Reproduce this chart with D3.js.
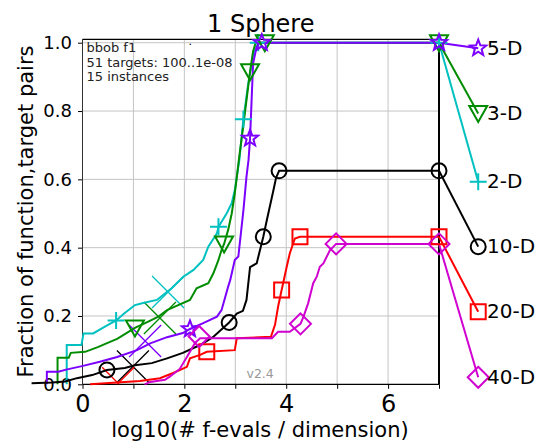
<!DOCTYPE html>
<html>
<head>
<meta charset="utf-8">
<script src="https://cdn.jsdelivr.net/npm/d3@7"></script>
<style>
  html, body { margin: 0; padding: 0; background: #fff; }
  svg { display: block; font-family: "DejaVu Sans", sans-serif; }
</style>
</head>
<body>
<svg id="chart" width="537" height="444"></svg>
<script>
// ---------------- DATA ----------------
const dimLabels = ["2-D", "3-D", "5-D", "10-D", "20-D", "40-D"];

// ECDF curves: [log10(#f-evals/dim), fraction]
const curve2D = [[-0.31,0],[-0.31,0.115],[-0.02,0.115],[0.02,0.149],[0.21,0.149],[0.44,0.169],[0.66,0.187],[0.83,0.209],[1.03,0.232],[1.19,0.238],[1.46,0.247],[1.75,0.281],[1.98,0.315],[2.18,0.335],[2.37,0.364],[2.47,0.403],[2.64,0.442],[2.67,0.461],[2.83,0.50],[2.93,0.53],[2.99,0.568],[3.04,0.618],[3.08,0.657],[3.16,0.776],[3.25,0.876],[3.35,0.964],[3.45,1.0],[7,1.0]];
const curve3D = [[-0.49,0],[-0.49,0.078],[-0.27,0.078],[-0.23,0.092],[0.05,0.095],[0.30,0.109],[0.54,0.124],[0.68,0.133],[1.03,0.165],[1.27,0.182],[1.48,0.197],[1.66,0.217],[1.88,0.232],[2.11,0.247],[2.24,0.281],[2.47,0.296],[2.57,0.325],[2.67,0.364],[2.73,0.393],[2.78,0.411],[2.86,0.452],[2.93,0.50],[2.99,0.559],[3.04,0.618],[3.07,0.657],[3.16,0.760],[3.29,0.915],[3.35,0.975],[3.40,1.0],[7,1.0]];
const curve5D = [[-0.70,0],[-0.70,0.037],[-0.475,0.037],[-0.32,0.043],[0.01,0.054],[0.34,0.066],[0.68,0.080],[1.07,0.100],[1.33,0.120],[1.66,0.138],[1.97,0.150],[2.11,0.162],[2.37,0.179],[2.64,0.198],[2.73,0.217],[2.86,0.286],[2.90,0.305],[2.99,0.364],[3.06,0.374],[3.16,0.51],[3.22,0.608],[3.26,0.657],[3.29,0.72],[3.35,0.94],[3.42,0.988],[3.48,1.0],[7,1.0]];
const curve10D = [[-1.00,0.003],[-0.60,0.005],[-0.34,0.008],[-0.11,0.018],[0.19,0.027],[0.48,0.042],[0.83,0.048],[1.03,0.056],[1.36,0.062],[1.66,0.076],[1.97,0.092],[2.31,0.115],[2.56,0.138],[2.88,0.181],[3.03,0.207],[3.15,0.215],[3.22,0.247],[3.29,0.343],[3.42,0.354],[3.55,0.432],[3.62,0.481],[3.75,0.569],[3.80,0.604],[3.86,0.625],[7,0.625]];
const curve20D = [[0.15,0],[1.13,0.010],[1.52,0.018],[1.78,0.033],[2.05,0.051],[2.11,0.076],[2.31,0.086],[2.44,0.095],[2.99,0.100],[3.03,0.135],[3.70,0.139],[3.78,0.174],[3.84,0.227],[3.91,0.276],[4.01,0.344],[4.07,0.383],[4.17,0.427],[4.27,0.432],[7,0.432]];
const curve40D = [[1.22,0],[1.33,0.007],[1.62,0.013],[1.72,0.023],[1.91,0.045],[2.05,0.080],[2.11,0.095],[2.21,0.121],[2.31,0.135],[3.72,0.135],[3.84,0.154],[4.07,0.154],[4.28,0.177],[4.34,0.198],[4.43,0.237],[4.53,0.296],[4.60,0.315],[4.66,0.344],[4.73,0.354],[4.86,0.393],[4.98,0.411],[7,0.411]];

// marker positions along the curves
const marks2D = [[0.66,0.187],[2.67,0.461],[3.16,0.776],[3.45,1.0],[7,1.0]];
const marks3D = [[1.03,0.165],[2.78,0.411],[3.29,0.915],[3.58,1.0],[7,1.0]];
const marks5D = [[2.11,0.162],[3.29,0.72],[3.52,1.0],[7,1.0]];
const marks10D = [[0.48,0.042],[2.88,0.181],[3.55,0.432],[3.86,0.625],[7,0.625]];
const marks20D = [[2.44,0.095],[3.91,0.276],[4.27,0.432],[7,0.432]];
const marks40D = [[2.29,0.140],[4.28,0.177],[4.98,0.411],[7,0.411]];

// right-hand label positions (y) and x of label markers
const labelX = 7.77;
const labelY = [0.593, 0.793, 0.984, 0.403, 0.2125, 0.0205];

// big crosses (median of unsuccessful evals)
const crossX = [1.68, 1.52, 1.23, 0.99, 0.70];
const crossY = [0.270, 0.194, 0.127, 0.052, 0.003];

const xTicks = [0,1,2,3,4,5,6,7];
const xTickLabels = ["0","","2","","4","","6",""];
const yTicks = [0, 0.2, 0.4, 0.6, 0.8, 1.0];
const infoLines = ["bbob f1", "51 targets: 100..1e-08", "15 instances"];

// ---------------- STYLE ----------------
const colors = ["#00c0c0", "#008c00", "#7b00ff", "#000000", "#ff0000", "#d000d0"];
const markerTypes = ["plus", "tri", "star", "circle", "square", "diamond"];

const curves = [curve2D, curve3D, curve5D, curve10D, curve20D, curve40D];
const marks = [marks2D, marks3D, marks5D, marks10D, marks20D, marks40D];

const svg = d3.select("#chart");
const x = d3.scaleLinear().domain([0, 7]).range([82.5, 439]);
const y = d3.scaleLinear().domain([0, 1.01]).range([384.3, 39.3]);
const [x0, x1] = x.range();
const [yb, yt] = y.range();

svg.append("rect").attr("width", 537).attr("height", 444).attr("fill", "#fff");

svg.append("defs").append("clipPath").attr("id", "axclip")
  .append("rect").attr("x", x0).attr("y", yt).attr("width", x1 - x0).attr("height", yb - yt);

// grid
const grid = svg.append("g").attr("stroke", "#c4c4c4").attr("stroke-width", 1);
xTicks.filter(d => d > 0 && d < 7).forEach(d => {
  grid.append("line").attr("x1", x(d)).attr("x2", x(d)).attr("y1", yt).attr("y2", yb);
});
yTicks.filter(d => d > 0).forEach(d => {
  grid.append("line").attr("x1", x0).attr("x2", x1).attr("y1", y(d)).attr("y2", y(d));
});

// axes
const yAxis = svg.append("g").attr("transform", `translate(${x0},0)`)
  .call(d3.axisLeft(y).tickValues(yTicks).tickFormat(d3.format(".1f")).tickSize(4.5).tickPadding(6));
yAxis.select(".domain").remove();
yAxis.selectAll("text").attr("font-size", 18).attr("font-family", "DejaVu Sans").attr("fill", "#000");
yAxis.selectAll("line").attr("stroke", "#000");

const xAxis = svg.append("g").attr("transform", `translate(0,${yb})`)
  .call(d3.axisBottom(x).tickValues(xTicks).tickFormat((d, i) => xTickLabels[i]).tickSize(4.5).tickPadding(6));
xAxis.select(".domain").remove();
xAxis.selectAll("text").attr("font-size", 24).attr("font-family", "DejaVu Sans").attr("fill", "#000");
xAxis.selectAll("line").attr("stroke", "#000");

// info text
infoLines.forEach((t, i) => {
  svg.append("text").attr("x", 86.5).attr("y", 52.3 + i * 14.3)
    .attr("font-size", 13).attr("fill", "#222").text(t);
});
svg.append("text").attr("x", x(2.08)).attr("y", y(1.0) + 2).attr("font-size", 11).attr("fill", "#000").text(".");

// version
svg.append("text").attr("x", 246.5).attr("y", 377.5).attr("font-size", 12.5).attr("fill", "#999").text("v2.4");

// spines
const sp = svg.append("g").attr("stroke", "#000").attr("fill", "none");
sp.append("line").attr("x1", x0).attr("x2", x0).attr("y1", yt).attr("y2", yb).attr("stroke-width", 1).attr("stroke", "#333");
sp.append("line").attr("x1", x0).attr("x2", x1).attr("y1", yt).attr("y2", yt).attr("stroke-width", 1.2);
sp.append("line").attr("x1", x0).attr("x2", x1).attr("y1", yb).attr("y2", yb).attr("stroke-width", 1.2);
sp.append("line").attr("x1", x1).attr("x2", x1).attr("y1", yt).attr("y2", yb).attr("stroke-width", 2);

// big crosses (clipped to axes)
const cg = svg.append("g").attr("clip-path", "url(#axclip)");
crossX.forEach((cx, i) => {
  const px = x(cx), py = y(crossY[i]), h = 16;
  cg.append("path")
    .attr("d", `M${px - h},${py - h}L${px + h},${py + h}M${px - h},${py + h}L${px + h},${py - h}`)
    .attr("stroke", colors[i]).attr("stroke-width", 1.3).attr("fill", "none");
});

function markerPath(type) {
  switch (type) {
    case "plus": { const s = 8.5; return `M${-s},0H${s}M0,${-s}V${s}`; }
    case "tri": { const r = 9; return `M${-r},${-7.5}L${r},${-7.5}L0,${8.5}Z`; }
    case "star": {
      const R = 8.5, r = 3.6; let p = "";
      for (let k = 0; k < 10; k++) {
        const a = -Math.PI / 2 + k * Math.PI / 5;
        const rr = k % 2 === 0 ? R : r;
        p += (k === 0 ? "M" : "L") + (rr * Math.cos(a)).toFixed(2) + "," + (rr * Math.sin(a)).toFixed(2);
      }
      return p + "Z";
    }
    case "circle": { const r = 7.5; return `M${r},0A${r},${r},0,1,1,${-r},0A${r},${r},0,1,1,${r},0Z`; }
    case "square": { const h = 7.5; return `M${-h},${-h}H${h}V${h}H${-h}Z`; }
    case "diamond": { const h = 10.5; return `M0,${-h}L${h},0L0,${h}L${-h},0Z`; }
  }
}

const line = d3.line().x(d => x(d[0])).y(d => y(d[1]));

// curves
curves.forEach((c, i) => {
  const g = svg.append("g");
  const last = c[c.length - 1];
  // connector to right label marker
  g.append("path")
    .attr("d", line([last, [labelX, labelY[i]]]))
    .attr("stroke", colors[i]).attr("stroke-width", 2).attr("fill", "none");
  g.append("path")
    .attr("d", line(c))
    .attr("stroke", colors[i]).attr("stroke-width", 2).attr("fill", "none")
    .attr("stroke-linejoin", "miter");
});

// markers
marks.forEach((m, i) => {
  const all = m.concat([[labelX, labelY[i]]]);
  svg.append("g").selectAll("path").data(all).join("path")
    .attr("transform", d => `translate(${x(d[0])},${y(d[1])})`)
    .attr("d", markerPath(markerTypes[i]))
    .attr("fill", "none").attr("stroke", colors[i]).attr("stroke-width", 2);
});

// dimension labels
dimLabels.forEach((t, i) => {
  svg.append("text").attr("x", 487).attr("y", y(labelY[i]))
    .attr("dy", "0.33em").attr("font-size", 20).attr("fill", "#000").text(t);
});

// title and axis labels
svg.append("text").attr("x", (x0 + x1) / 2).attr("y", 32).attr("text-anchor", "middle")
  .attr("font-size", 24).attr("fill", "#000").text("1 Sphere");
svg.append("text").attr("x", 260).attr("y", 437).attr("text-anchor", "middle")
  .attr("font-size", 21).attr("fill", "#000").text("log10(# f-evals / dimension)");
svg.append("text").attr("transform", "translate(33,211.5) rotate(-90)").attr("text-anchor", "middle")
  .attr("font-size", 21).attr("fill", "#000").text("Fraction of function,target pairs");
</script>
</body>
</html>
